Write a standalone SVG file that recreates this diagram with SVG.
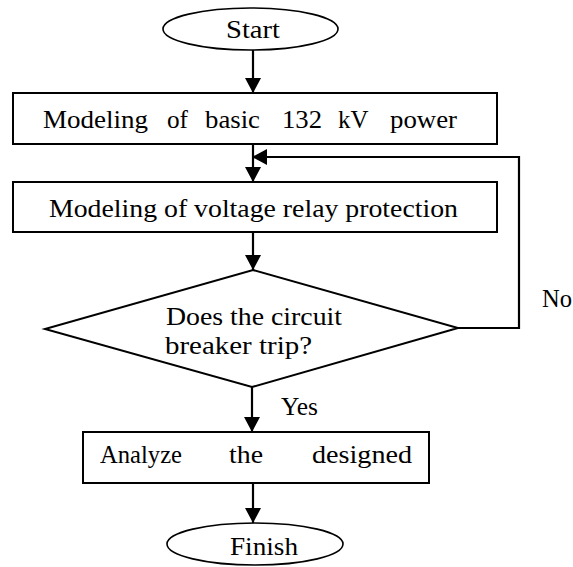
<svg xmlns="http://www.w3.org/2000/svg" width="573" height="567" viewBox="0 0 573 567">
<style>
.shape{fill:#fff;stroke:#000;stroke-width:2}
.ell{fill:#fff;stroke:#000;stroke-width:1.6}
.t{font-family:"Liberation Serif","Times New Roman",serif;font-size:25px;fill:#000}
.conn{fill:none;stroke:#000;stroke-width:2.2}
</style>
<defs>
<marker id="ah" viewBox="0 0 15 16" refX="15" refY="8" markerUnits="userSpaceOnUse" markerWidth="15" markerHeight="16" orient="auto">
<path d="M0,0 L15,8 L0,16 z" fill="#000"/>
</marker>
</defs>
<rect width="573" height="567" fill="#fff"/>
<g id="start">
<ellipse class="ell" cx="250.5" cy="29" rx="87.5" ry="21"/>
<text class="t" x="226" y="38" textLength="54" lengthAdjust="spacingAndGlyphs">Start</text>
</g>
<g id="model-power">
<rect class="shape" x="13" y="93" width="484" height="51"/>
<text class="t" y="128"><tspan x="43" textLength="105" lengthAdjust="spacingAndGlyphs">Modeling</tspan> <tspan x="167" textLength="21" lengthAdjust="spacingAndGlyphs">of</tspan> <tspan x="205" textLength="55" lengthAdjust="spacingAndGlyphs">basic</tspan> <tspan x="282" textLength="40" lengthAdjust="spacingAndGlyphs">132</tspan> <tspan x="338" textLength="30" lengthAdjust="spacingAndGlyphs">kV</tspan> <tspan x="390" textLength="67" lengthAdjust="spacingAndGlyphs">power</tspan></text>
</g>
<g id="model-relay">
<rect class="shape" x="13" y="182" width="484" height="50"/>
<text class="t" x="49" y="217" textLength="409" lengthAdjust="spacingAndGlyphs">Modeling of voltage relay protection</text>
</g>
<g id="decision">
<polygon class="shape" points="253,270 458,328 252,387 45,329"/>
<text class="t" x="166" y="325" textLength="176" lengthAdjust="spacingAndGlyphs">Does the circuit</text>
<text class="t" x="165" y="354" textLength="147" lengthAdjust="spacingAndGlyphs">breaker trip?</text>
</g>
<g id="analyze">
<rect class="shape" x="83" y="432" width="346" height="51"/>
<text class="t" y="463"><tspan x="100" textLength="82" lengthAdjust="spacingAndGlyphs">Analyze</tspan> <tspan x="229" textLength="34" lengthAdjust="spacingAndGlyphs">the</tspan> <tspan x="312" textLength="100" lengthAdjust="spacingAndGlyphs">designed</tspan></text>
</g>
<g id="finish">
<ellipse class="ell" cx="255" cy="544" rx="88" ry="21"/>
<text class="t" x="230" y="555" textLength="68" lengthAdjust="spacingAndGlyphs">Finish</text>
</g>
<g id="connectors">
<path class="conn" d="M253,50 V93" marker-end="url(#ah)"/>
<path class="conn" d="M253,144 V182" marker-end="url(#ah)"/>
<path class="conn" d="M253,232 V270" marker-end="url(#ah)"/>
<path class="conn" d="M458,328 H519 V157 H252" marker-end="url(#ah)"/>
<path class="conn" d="M252,387 V432" marker-end="url(#ah)"/>
<path class="conn" d="M253,483 V523" marker-end="url(#ah)"/>
<text class="t" x="542" y="307" textLength="30" lengthAdjust="spacingAndGlyphs">No</text>
<text class="t" x="281" y="415" textLength="37" lengthAdjust="spacingAndGlyphs">Yes</text>
</g>
</svg>
